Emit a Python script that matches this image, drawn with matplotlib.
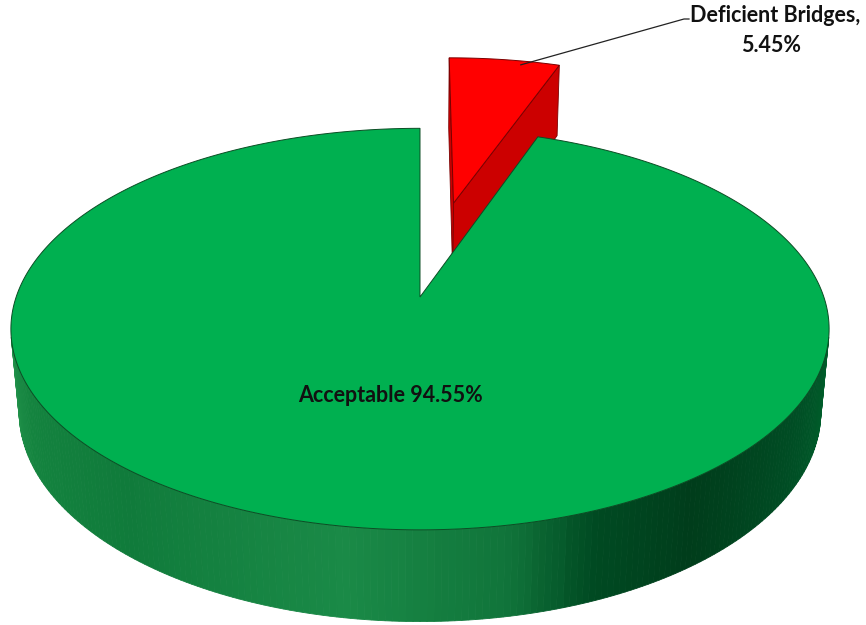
import numpy as np
import matplotlib.pyplot as plt
from matplotlib.colors import LinearSegmentedColormap
from matplotlib.patches import Polygon

# data
labels = ['Deficient Bridges', 'Acceptable']
shares = [5.45, 94.55]
top_colors = ['#ff0000', '#00b050']
cut_colors = ['#cc0000', '#007a35']
edge_colors = ['#7a0000', '#0b4d24']
explode = [0.527, 0.0]

# camera / layout (pixels)
W, H = 866, 625
cx, cy = 420, 297
F = 2255.0
Fx = F * 0.985
D = 5.5
elev = np.radians(28.5)
thick = 0.232
s, c = np.sin(elev), np.cos(elev)
cam = np.array([0.0, -D * c, D * s])

# shading of the green outer wall, by angle from -180 (left) to 0 (right)
side_cmap = LinearSegmentedColormap.from_list('side', [
    (0.00, '#2a9a52'), (0.14, '#14843f'), (0.28, '#107b3b'),
    (0.45, '#1a8a47'), (0.56, '#10743a'), (0.62, '#004a22'),
    (0.70, '#003d1b'), (0.82, '#004d24'), (1.00, '#006a30')])
red_side = '#b00000'


def proj(p):
    X, Y, Z = p
    yc = Y * s + Z * c
    zc = Y * c - Z * s + D
    return cx + Fx * X / zc, cy - F * yc / zc


def visible(n, p):
    return np.dot(n, cam - p) > 0


fig = plt.figure(figsize=(W / 100, H / 100), dpi=100)
ax = fig.add_axes([0, 0, 1, 1])
ax.set_xlim(0, W)
ax.set_ylim(H, 0)
ax.axis('off')

# slice angles, clockwise from 12 o'clock
starts, ends = [], []
a = 90.0
for v in shares:
    starts.append(a)
    a -= 360.0 * v / 100.0
    ends.append(a)

slices = []
for i in range(len(shares)):
    mid = np.radians((starts[i] + ends[i]) / 2)
    off = np.array([np.cos(mid), np.sin(mid), 0.0]) * explode[i]
    slices.append((off[1] + np.sin(mid) * 0.5, i, off))

# back slices first
for _, i, off in sorted(slices, reverse=True):
    t = np.radians(np.linspace(starts[i], ends[i], 400))
    rim_top = [off + np.array([np.cos(a), np.sin(a), 0.0]) for a in t]
    rim_bot = [p - np.array([0, 0, thick]) for p in rim_top]
    apex_top = off.copy()
    apex_bot = off - np.array([0, 0, thick])

    # radial cut faces
    for k, a_cut, sign in [(0, t[0], 1), (-1, t[-1], -1)]:
        n = sign * np.array([-np.sin(a_cut), np.cos(a_cut), 0.0])
        pc = (apex_top + rim_top[k]) / 2
        if visible(n, pc):
            quad = [proj(apex_top), proj(rim_top[k]), proj(rim_bot[k]), proj(apex_bot)]
            ax.add_patch(Polygon(quad, closed=True, facecolor=cut_colors[i],
                                 edgecolor=edge_colors[i], lw=0.6, zorder=1))

    # outer wall
    for j in range(len(t) - 1):
        am = (t[j] + t[j + 1]) / 2
        n = np.array([np.cos(am), np.sin(am), 0.0])
        if not visible(n, rim_top[j]):
            continue
        phi = np.degrees(np.arctan2(np.sin(am), np.cos(am)))
        col = side_cmap(np.clip((phi + 180) / 180, 0, 1)) if i == 1 else red_side
        quad = [proj(rim_top[j]), proj(rim_top[j + 1]), proj(rim_bot[j + 1]), proj(rim_bot[j])]
        ax.add_patch(Polygon(quad, closed=True, facecolor=col, edgecolor=col,
                             lw=0.6, zorder=1))

    # top face
    top = [proj(apex_top)] + [proj(p) for p in rim_top]
    ax.add_patch(Polygon(top, closed=True, facecolor=top_colors[i],
                         edgecolor=edge_colors[i], lw=0.7, zorder=2))

# labels
ax.text(391, 396, f'{labels[1]} {shares[1]:.2f}%', ha='center', va='center',
        fontsize=15.5, fontweight='bold', family='Lato', color='#111111', zorder=5)

mid = np.radians((starts[0] + ends[0]) / 2)
off0 = np.array([np.cos(mid), np.sin(mid), 0.0]) * explode[0]
anchor = proj(off0 + np.array([np.cos(np.radians(77)), np.sin(np.radians(77)), 0.0]) * 0.97)
ax.plot([anchor[0], 684, 689], [anchor[1], 19, 19], color='#222222', lw=0.9, zorder=5)
ax.text(775, 16, f'{labels[0]},', ha='center', va='center', fontsize=15.5,
        fontweight='bold', family='Lato', color='#111111', zorder=5)
ax.text(771, 46, f'{shares[0]:.2f}%', ha='center', va='center', fontsize=15.5,
        fontweight='bold', family='Lato', color='#111111', zorder=5)

fig.savefig('out.png', dpi=100, facecolor='white')
